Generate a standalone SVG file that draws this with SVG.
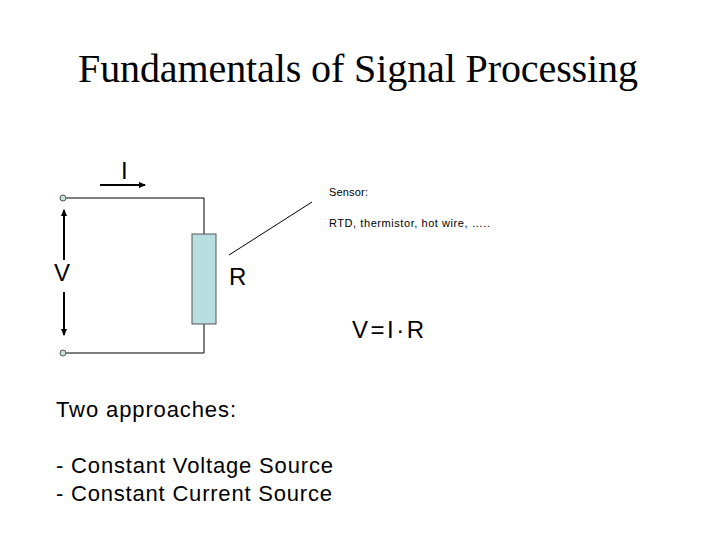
<svg xmlns="http://www.w3.org/2000/svg" width="720" height="540" viewBox="0 0 720 540">
<style>
.t{font-family:"Liberation Sans",Arial,sans-serif;fill:#000}
.w{stroke:#000;stroke-width:1;fill:none}
.a{stroke:#000;stroke-width:2;fill:none}
</style>
<defs><marker id="ah" markerWidth="8" markerHeight="8" refX="6" refY="4" orient="auto" markerUnits="userSpaceOnUse"><path d="M0,1 L7,4 L0,7 Z" fill="#000"/></marker></defs>
<rect width="720" height="540" fill="#fff"/>
<text x="358" y="82" text-anchor="middle" font-family="Liberation Serif,serif" font-size="40" textLength="560">Fundamentals of Signal Processing</text>
<g id="connectors">
<polyline class="w" points="66,198 204,198 204,234"/>
<polyline class="w" points="66,353 204,353 204,324"/>
<line class="a" x1="100" y1="185" x2="145" y2="185" marker-end="url(#ah)"/>
<line class="a" x1="64" y1="260" x2="64" y2="210" marker-end="url(#ah)"/>
<line class="a" x1="64" y1="292" x2="64" y2="335" marker-end="url(#ah)"/>
<line class="w" x1="229" y1="255" x2="312" y2="202"/>
</g>
<g id="terminal-top"><circle cx="63" cy="198" r="3" fill="#cfdcdc" stroke="#555"/></g>
<g id="terminal-bottom"><circle cx="63" cy="353" r="3" fill="#cfdcdc" stroke="#555"/></g>
<g id="resistor"><rect x="192" y="234" width="24" height="90" fill="#b7dde1" stroke="#555"/></g>
<text class="t" x="121" y="179" font-size="24">I</text>
<text class="t" x="54" y="281" font-size="24">V</text>
<text class="t" x="229" y="285" font-size="24">R</text>
<text class="t" x="329" y="196" font-size="11" textLength="39">Sensor:</text>
<text class="t" x="329" y="227" font-size="11" textLength="161">RTD, thermistor, hot wire,  …..</text>
<text class="t" x="352" y="338" font-size="24" textLength="72">V=I·R</text>
<text class="t" x="56" y="417" font-size="22" textLength="180">Two approaches:</text>
<text class="t" x="56" y="473" font-size="22" textLength="277">- Constant Voltage Source</text>
<text class="t" x="56" y="501" font-size="22" textLength="276">- Constant Current Source</text>
</svg>
